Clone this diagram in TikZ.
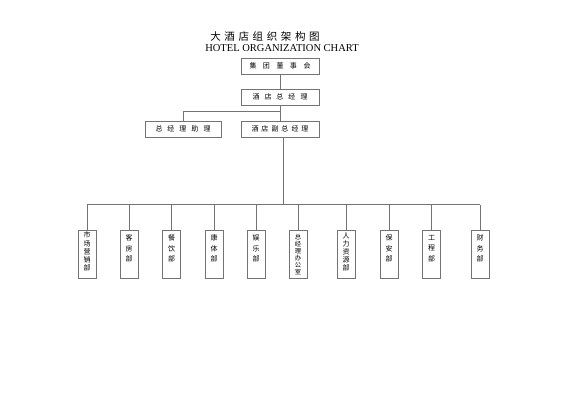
\documentclass[tikz,border=0pt]{standalone}
\usepackage{fontspec}
\setmainfont{Liberation Serif}
\newfontfamily\cjk{Noto Sans CJK SC}
\newcommand{\gapA}{\hspace{6.5pt}}
\newcommand{\gapB}{\hspace{5pt}}
\newcommand{\gapC}{\hspace{3.6pt}}
% #1 font size, #2 line pitch, #3 top gap, #4 stacked characters
\newcommand{\vtext}[4]{\parbox[c][48pt][t]{10pt}{\vspace*{#3}\centering\cjk\fontsize{#1}{#2}\selectfont #4}}
\begin{document}
\begin{tikzpicture}[x=1pt,y=-1pt,
  conn/.style={draw=black!55,line width=0.7pt},
  topbox/.style={draw=black!55,line width=0.8pt,minimum width=78pt,minimum height=16pt,inner sep=0pt,font=\cjk\fontsize{7}{8}\selectfont},
  deptbox/.style={draw=black!55,line width=0.8pt,minimum width=18pt,minimum height=48pt,inner sep=0pt}]
\useasboundingbox (0,0) rectangle (565,400);
\node[anchor=base] (title) at (265,40.5) {\cjk\fontsize{10.5}{12}\selectfont 大\gapC 酒\gapC 店\gapC 组\gapC 织\gapC 架\gapC 构\gapC 图};
\node[anchor=base] (subtitle) at (282,51.5) {\fontsize{10.5}{12}\selectfont HOTEL ORGANIZATION CHART};
\node[topbox] (board) at (280,66) {集\gapA 团\gapA 董\gapA 事\gapA 会};
\node[topbox] (gm) at (280,97) {酒\gapB 店\gapB 总\gapB 经\gapB 理};
\node[topbox,minimum width=76pt] (asst) at (183,129) {总\gapB 经\gapB 理\gapB 助\gapB 理};
\node[topbox] (vp) at (280,129) {酒\hspace{3pt}店\hspace{3pt}副\hspace{3pt}总\hspace{3pt}经\hspace{3pt}理};
\coordinate (bus) at (283,204.5);
\coordinate (split) at (280,111);
\node[deptbox] (d1) at (87,254) {\vtext{7}{8.25}{2pt}{市\\场\\营\\销\\部}};
\node[deptbox] (d2) at (129,254) {\vtext{7}{10.5}{5pt}{客\\房\\部}};
\node[deptbox] (d3) at (171.5,254) {\vtext{7}{10.5}{5pt}{餐\\饮\\部}};
\node[deptbox] (d4) at (214,254) {\vtext{7}{10.5}{5pt}{康\\体\\部}};
\node[deptbox] (d5) at (256,254) {\vtext{7}{10.5}{5pt}{娱\\乐\\部}};
\node[deptbox] (d6) at (298,254) {\vtext{6.3}{6.9}{4.5pt}{总\\经\\理\\办\\公\\室}};
\node[deptbox] (d7) at (346,254) {\vtext{7}{8}{3pt}{人\\力\\资\\源\\部}};
\node[deptbox] (d8) at (389,254) {\vtext{7}{10.5}{5pt}{保\\安\\部}};
\node[deptbox] (d9) at (431.5,254) {\vtext{7}{10.5}{5pt}{工\\程\\部}};
\node[deptbox] (d10) at (480,254) {\vtext{7}{10.5}{5pt}{财\\务\\部}};
\draw[conn] (board.south) -- (gm.north);
\draw[conn] (gm.south) -- (vp.north);
\draw[conn] (split) -| (asst.north);
\draw[conn] (vp.south -| bus) -- (bus);
\draw[conn] (d1.north |- bus) -- (d10.north |- bus);
\foreach \d in {d1,d2,d3,d4,d5,d6,d7,d8,d9,d10}{
  \draw[conn] (\d.north) -- (\d.north |- bus);
}
\end{tikzpicture}
\end{document}
